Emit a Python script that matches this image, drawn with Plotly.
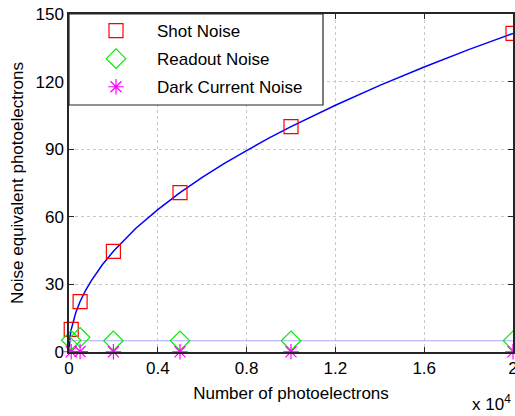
import plotly.graph_objects as go

# Measured data points
electrons = [100, 500, 2000, 5000, 10000, 20000]
shot_noise = [10.0, 22.4, 44.7, 70.7, 100.0, 141.4]
readout_noise = [5.2, 6.5, 5.0, 5.0, 5.0, 5.0]
dark_noise = [0.1, 0.2, 0.1, 0.1, 0.1, 0.1]

# Blue curve
curve_x = [0, 25, 50, 100, 200, 300, 500, 750, 1000, 1500, 2000, 3000, 4000, 5000,
           6000, 7000, 8000, 9000, 10000, 12000, 14000, 16000, 18000, 20000]
curve_y = [0, 5.0, 7.1, 10.0, 14.1, 17.3, 22.4, 27.4, 31.6, 38.7, 44.7, 54.8, 63.2, 70.7,
           77.5, 83.7, 89.4, 94.9, 100.0, 109.5, 118.3, 126.5, 134.2, 141.4]

# Light blue readout level line
level_x = [0, 20000]
level_y = [5.0, 5.0]

x_ticks = [0, 4000, 8000, 12000, 16000, 20000]
x_tick_labels = ["0", "0.4", "0.8", "1.2", "1.6", "2"]
y_ticks = [0, 30, 60, 90, 120, 150]

FONT = "Arial, Liberation Sans, sans-serif"
PLOT_W = 515 - 69 - 2
PLOT_H = 416 - 14 - 64

fig = go.Figure()
fig.add_trace(go.Scatter(x=curve_x, y=curve_y, mode="lines",
                         line=dict(color="#0000ff", width=1.5),
                         showlegend=False, hoverinfo="skip"))
fig.add_trace(go.Scatter(x=level_x, y=level_y, mode="lines",
                         line=dict(color="#a8a8ff", width=1.2),
                         showlegend=False, hoverinfo="skip"))
fig.add_trace(go.Scatter(x=electrons, y=shot_noise, mode="markers", name="Shot Noise",
                         legendgroup="a",
                         marker=dict(symbol="square-open", size=14, color="#ff0000",
                                     line=dict(width=1.2, color="#ff0000")),
                         cliponaxis=False))
fig.add_trace(go.Scatter(x=electrons, y=readout_noise, mode="markers", name="Readout Noise",
                         legendgroup="b",
                         marker=dict(symbol="diamond-open", size=15, color="#00ee00",
                                     line=dict(width=1.2, color="#00ee00")),
                         cliponaxis=False))
fig.add_trace(go.Scatter(x=electrons, y=dark_noise, mode="markers", name="Dark Current Noise",
                         legendgroup="c",
                         marker=dict(symbol="asterisk-open", size=13, color="#ff00ff",
                                     line=dict(width=1.2, color="#ff00ff")),
                         cliponaxis=False))

axis_common = dict(
    showline=True, linecolor="#262626", linewidth=1.5, mirror="ticks",
    ticks="inside", ticklen=5, tickcolor="#262626", tickwidth=1,
    showgrid=True, gridcolor="#c8c8c8", griddash="dot", gridwidth=1,
    zeroline=False, tickfont=dict(family=FONT, size=17, color="#000000"),
    ticklabeloverflow="allow",
)

fig.update_layout(
    width=515, height=416,
    margin=dict(l=69, r=2, t=14, b=64, autoexpand=False),
    paper_bgcolor="white", plot_bgcolor="white",
    font=dict(family=FONT, size=17, color="#000000"),
    xaxis=dict(range=[0, 20000], tickvals=x_ticks, ticktext=x_tick_labels,
               title=dict(text="Number of photoelectrons", font=dict(family=FONT, size=17),
                          standoff=10),
               automargin=False,
               **axis_common),
    yaxis=dict(range=[0, 150], tickvals=y_ticks,
               title=dict(text="Noise equivalent photoelectrons", font=dict(family=FONT, size=17),
                          standoff=8),
               automargin=False,
               **axis_common),
    legend=dict(x=6 / PLOT_W, y=1 + 1 / PLOT_H, xanchor="left", yanchor="top",
                bgcolor="rgba(0,0,0,0)", borderwidth=0,
                font=dict(family=FONT, size=17), itemwidth=72,
                tracegroupgap=3),
    shapes=[dict(type="rect", xref="paper", yref="paper",
                 x0=0, x1=(323 - 69) / PLOT_W, y0=1 - (105 - 14) / PLOT_H, y1=1,
                 fillcolor="white", line=dict(color="#262626", width=1.2), layer="above")],
    annotations=[dict(text="x 10<sup>4</sup>", xref="paper", yref="paper",
                      x=1.0, y=0, xanchor="right", yanchor="top", yshift=-38,
                      showarrow=False, font=dict(family=FONT, size=17))],
)

fig.write_html("out.html", config={"displayModeBar": False},
               post_script="document.body.style.margin='0px';")
